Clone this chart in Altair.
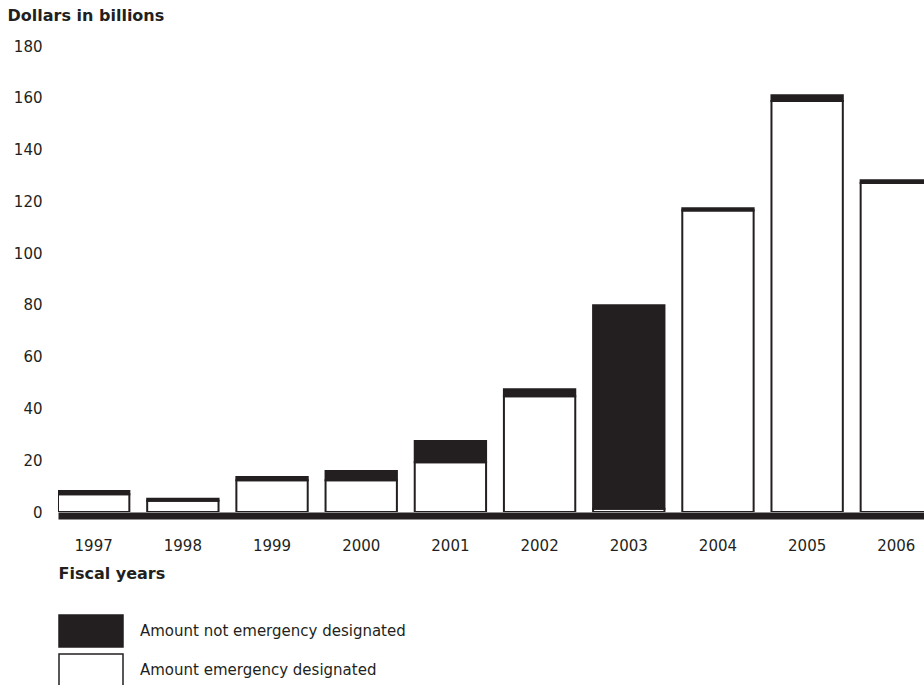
import altair as alt
import pandas as pd

# Fiscal years and appropriation amounts (dollars in billions)
years = ["1997", "1998", "1999", "2000", "2001", "2002", "2003", "2004", "2005", "2006"]
emergency = [6.9, 4.3, 12.3, 12.3, 19.2, 44.7, 1.3, 116.5, 158.8, 127.1]
not_emergency = [1.2, 0.8, 1.2, 3.5, 8.2, 2.7, 78.6, 0.8, 2.2, 1.0]

categories = ["Amount not emergency designated", "Amount emergency designated"]
fills = ["#231f20", "#ffffff"]
y_ticks = [0, 20, 40, 60, 80, 100, 120, 140, 160, 180]

INK = "#231f20"

rows = []
for yr, e, n in zip(years, emergency, not_emergency):
    rows.append({"year": yr, "category": categories[1], "value": e, "stack_order": 0})
    rows.append({"year": yr, "category": categories[0], "value": n, "stack_order": 1})
df = pd.DataFrame(rows)

bars = alt.Chart(df).mark_bar(stroke=INK, strokeWidth=2, clip=True).encode(
    x=alt.X(
        "year:O",
        sort=years,
        scale=alt.Scale(range=[0, 874], paddingInner=0.2, paddingOuter=0),
        axis=alt.Axis(
            title="Fiscal years",
            labelAngle=0,
            ticks=False,
            domain=True,
            domainWidth=7,
            domainColor=INK,
            offset=3.5,
            labelPadding=23,
            labelFontSize=15,
            labelColor=INK,
            titleFontSize=16,
            titleFontWeight="bold",
            titleColor=INK,
            titleAnchor="start",
            titleAlign="left",
            titleBaseline="top",
            titleX=0,
            titleY=50,
        ),
    ),
    y=alt.Y(
        "value:Q",
        stack="zero",
        scale=alt.Scale(domain=[0, 180], nice=False),
        axis=alt.Axis(
            title="Dollars in billions",
            values=y_ticks,
            domain=False,
            ticks=False,
            grid=False,
            labelPadding=16,
            labelFontSize=15,
            labelColor=INK,
            titleFontSize=16,
            titleFontWeight="bold",
            titleColor=INK,
            titleAngle=0,
            titleAlign="left",
            titleBaseline="top",
            titleX=-51,
            titleY=-39,
        ),
    ),
    fill=alt.Fill(
        "category:N",
        scale=alt.Scale(domain=categories, range=fills),
        legend=alt.Legend(
            title=None,
            orient="none",
            legendX=16,
            legendY=568,
            direction="vertical",
            # wide rectangular swatch: 64 x 32 px
            symbolType="M-2,-1H2V1H-2Z",
            symbolSize=1024,
            symbolStrokeColor=INK,
            symbolStrokeWidth=1.5,
            symbolOpacity=1,
            labelFontSize=15,
            labelColor=INK,
            labelOffset=32,
            labelLimit=0,
            rowPadding=1,
            padding=0,
        ),
    ),
    order=alt.Order("stack_order:Q"),
)

chart = bars.properties(
    width=866,
    height=466,
    autosize=alt.AutoSizeParams(type="none"),
    padding={"left": 58, "top": 46, "right": 0, "bottom": 173},
).configure(
    font="DejaVu Sans",
    background="white",
).configure_view(stroke=None)

chart.save("out.html", embed_options={"renderer": "svg", "actions": False})
